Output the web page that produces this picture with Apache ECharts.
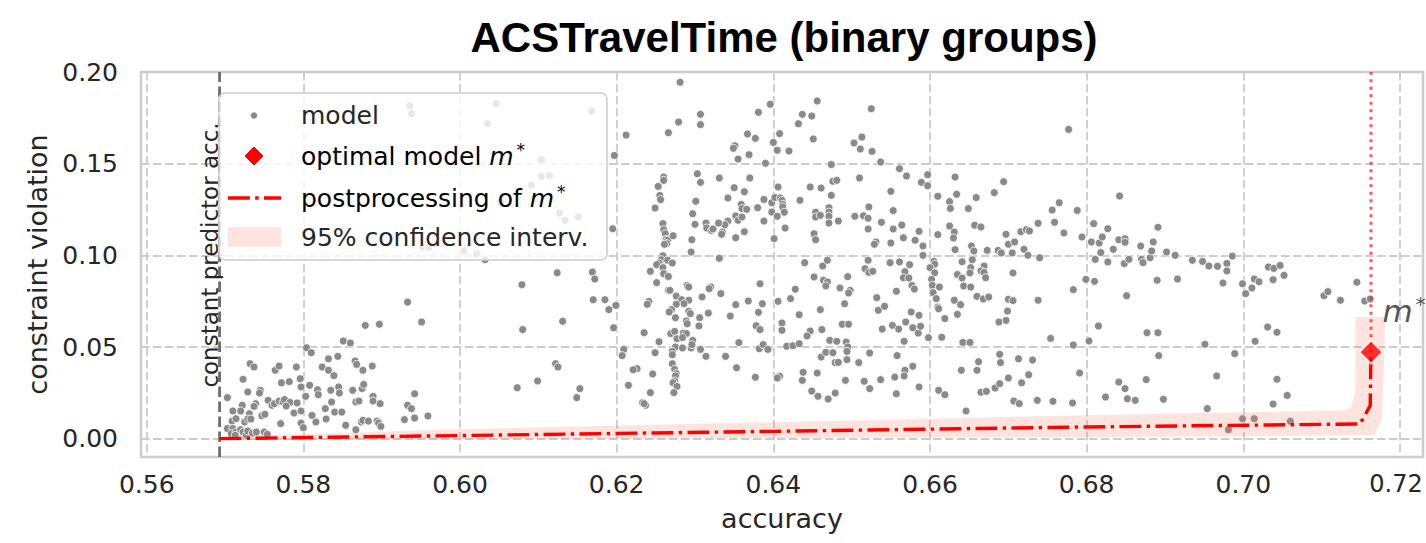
<!DOCTYPE html>
<html>
<head>
<meta charset="utf-8">
<script src="https://cdn.jsdelivr.net/npm/echarts@6.0.0/dist/echarts.min.js"></script>
<style>html,body{margin:0;padding:0;background:#fff}#chart{width:1426px;height:543px}</style>
</head>
<body>
<div id="chart"></div>
<script>
const titleText = 'ACSTravelTime (binary groups)';
const xTicks = [0.56, 0.58, 0.60, 0.62, 0.64, 0.66, 0.68, 0.70, 0.72];
const yTicks = [0.00, 0.05, 0.10, 0.15, 0.20];
const xRange = [0.55927, 0.72294];
const yRange = [-0.01, 0.20];
const constantPredictorAcc = 0.5693;
const optimalModel = [0.7163, 0.0472];
const postprocessing = [[0.5693, 0.0000], [0.6000, 0.0017], [0.6400, 0.0040], [0.6800, 0.0064], [0.7149, 0.0080], [0.7162, 0.0180], [0.7163, 0.0472]];
const ciPolygon = [[0.5693, 0.0012], [0.6000, 0.0052], [0.6400, 0.0090], [0.6800, 0.0128], [0.7128, 0.0154], [0.7138, 0.0172], [0.7143, 0.0264], [0.7143, 0.0663],
                   [0.7181, 0.0663], [0.7180, 0.0450], [0.7177, 0.0109], [0.7168, 0.0018], [0.6800, 0.0008], [0.6400, 0.0004], [0.6000, -0.0004], [0.5693, -0.0008]];
const modelPoints = [
[0.5804,0.0496],[0.5810,0.0469],[0.5851,0.0533],[0.5860,0.0522],[0.5732,0.0409],[0.5737,0.0391],[0.5764,0.0373],[0.5769,0.0396],[0.5791,0.0391],[0.5832,0.0436],[0.5844,0.0449],[0.5824,0.0391],[0.5832,0.0373],[0.5839,0.0344],[0.5866,0.0424],[0.5868,0.0405],[0.5876,0.0373],[0.5888,0.0396],[0.5723,0.0324],[0.5772,0.0305],[0.5782,0.0311],[0.5796,0.0327],[0.5729,0.0255],[0.5745,0.0264],[0.5744,0.0249],[0.5797,0.0282],[0.5808,0.0291],[0.5818,0.0267],[0.5835,0.0264],[0.5845,0.0282],[0.5846,0.0249],[0.5863,0.0264],[0.5875,0.0273],[0.5877,0.0296],[0.5703,0.0224],[0.5722,0.0182],[0.5739,0.0191],[0.5737,0.0176],[0.5755,0.0209],[0.5760,0.0182],[0.5763,0.0191],[0.5769,0.0205],[0.5774,0.0200],[0.5776,0.0213],[0.5783,0.0198],[0.5792,0.0195],[0.5803,0.0231],[0.5710,0.0151],[0.5720,0.0151],[0.5731,0.0136],[0.5747,0.0125],[0.5751,0.0133],[0.5778,0.0178],[0.5788,0.0140],[0.5709,0.0096],[0.5714,0.0109],[0.5725,0.0091],[0.5729,0.0107],[0.5733,0.0107],[0.5771,0.0082],[0.5797,0.0151],[0.5811,0.0127],[0.5816,0.0091],[0.5828,0.0164],[0.5829,0.0107],[0.5836,0.0200],[0.5840,0.0145],[0.5849,0.0145],[0.5854,0.0073],[0.5867,0.0200],[0.5871,0.0205],[0.5889,0.0231],[0.5889,0.0205],[0.5898,0.0191],[0.5797,0.0085],[0.5800,0.0060],[0.5874,0.0091],[0.5876,0.0100],[0.5883,0.0096],[0.5867,0.0049],[0.5894,0.0096],[0.5896,0.0085],[0.5899,0.0067],[0.5929,0.0104],[0.5933,0.0182],[0.5938,0.0164],[0.5942,0.0245],[0.5942,0.0113],[0.5703,0.0055],[0.5710,0.0055],[0.5708,0.0027],[0.5714,0.0036],[0.5713,0.0018],[0.5720,0.0049],[0.5723,0.0036],[0.5727,0.0018],[0.5729,0.0042],[0.5735,0.0031],[0.5740,0.0036],[0.5750,0.0036],[0.5754,0.0024],[0.5819,0.0240],
[0.5933,0.0745],[0.5951,0.0636],[0.5879,0.0618],[0.5897,0.0624],[0.5959,0.0124],[0.5936,0.1815],[0.5938,0.1773],[0.5952,0.1045],[0.5960,0.1045],
[0.6046,0.1827],[0.6035,0.1718],[0.6168,0.1787],[0.6104,0.1522],[0.6104,0.1431],[0.6114,0.1435],[0.6091,0.1382],[0.6052,0.1291],[0.6127,0.1231],[0.6134,0.1191],[0.6151,0.1209],[0.6005,0.1024],[0.6021,0.1009],[0.6032,0.0976],
[0.6197,0.1545],[0.6195,0.1145],[0.6124,0.0905],[0.6079,0.0840],[0.6169,0.0909],[0.6172,0.0871],[0.6170,0.0758],[0.6185,0.0758],[0.6190,0.0704],[0.6199,0.0727],[0.6131,0.0640],[0.6080,0.0595],[0.6196,0.0605],[0.6122,0.0409],[0.6125,0.0391],[0.6099,0.0315],[0.6073,0.0278],[0.6153,0.0273],[0.6149,0.0224],
[0.6212,0.1656],[0.6281,0.1944],[0.6279,0.1727],[0.6266,0.1669],[0.6307,0.1769],[0.6307,0.1713],[0.6381,0.1780],[0.6396,0.1824],[0.6367,0.1662],[0.6377,0.1638],[0.6351,0.1598],[0.6349,0.1584],[0.6355,0.1525],[0.6369,0.1549],[0.6390,0.1502],[0.6400,0.1616],[0.6405,0.1573],[0.6408,0.1664],
[0.6260,0.1427],[0.6260,0.1409],[0.6253,0.1376],[0.6255,0.1327],[0.6256,0.1304],[0.6249,0.1258],[0.6303,0.1445],[0.6307,0.1398],[0.6331,0.1422],[0.6370,0.1422],[0.6350,0.1369],[0.6363,0.1347],[0.6342,0.1313],[0.6301,0.1295],[0.6297,0.1227],[0.6300,0.1169],[0.6359,0.1278],[0.6360,0.1255],[0.6366,0.1251],[0.6380,0.1260],[0.6388,0.1305],[0.6398,0.1287],[0.6402,0.1315],[0.6406,0.1373],[0.6409,0.1313],[0.6411,0.1300],[0.6412,0.1278],[0.6412,0.1264],[0.6398,0.1236],[0.6405,0.1213],[0.6414,0.1235],[0.6415,0.1149],[0.6388,0.1187],[0.6352,0.1215],[0.6355,0.1191],[0.6360,0.1209],[0.6342,0.1187],[0.6338,0.1167],[0.6330,0.1176],[0.6314,0.1176],[0.6315,0.1149],[0.6321,0.1136],[0.6323,0.1144],[0.6335,0.1127],[0.6334,0.1115],[0.6363,0.1129],[0.6352,0.1096],[0.6401,0.1091],
[0.6259,0.1173],[0.6260,0.1140],[0.6262,0.1118],[0.6263,0.1087],[0.6265,0.1082],[0.6264,0.1064],[0.6261,0.1060],[0.6272,0.1107],[0.6296,0.1085],[0.6295,0.1018],
[0.6331,0.0984],[0.6259,0.0998],[0.6257,0.0976],[0.6254,0.0958],[0.6251,0.0949],[0.6265,0.0973],[0.6271,0.0958],[0.6259,0.0933],[0.6260,0.0900],[0.6266,0.0885],[0.6243,0.0913],[0.6251,0.0851],
[0.6209,0.0487],[0.6207,0.0453],[0.6290,0.0835],[0.6292,0.0827],[0.6320,0.0827],[0.6318,0.0818],[0.6333,0.0791],[0.6383,0.0845],[0.6266,0.0809],[0.6268,0.0809],[0.6276,0.0778],[0.6241,0.0749],[0.6239,0.0733],[0.6283,0.0758],[0.6292,0.0755],[0.6286,0.0736],[0.6276,0.0733],[0.6309,0.0773],[0.6270,0.0704],[0.6267,0.0691],[0.6292,0.0695],[0.6294,0.0682],[0.6275,0.0660],[0.6306,0.0660],[0.6317,0.0685],[0.6289,0.0642],[0.6290,0.0627],[0.6305,0.0615],[0.6352,0.0731],[0.6368,0.0751],[0.6386,0.0736],[0.6381,0.0689],[0.6345,0.0669],[0.6406,0.0749],[0.6411,0.0631],[0.6411,0.0591],[0.6378,0.0616],[0.6383,0.0595],[0.6235,0.0578],[0.6269,0.0573],[0.6274,0.0585],[0.6277,0.0545],[0.6285,0.0576],[0.6289,0.0573],[0.6284,0.0551],[0.6254,0.0529],[0.6249,0.0469],[0.6275,0.0500],[0.6284,0.0495],[0.6295,0.0495],[0.6297,0.0536],[0.6296,0.0513],[0.6307,0.0487],[0.6314,0.0449],[0.6339,0.0449],[0.6356,0.0524],[0.6353,0.0387],[0.6382,0.0491],[0.6387,0.0513],[0.6393,0.0487],[0.6271,0.0476],[0.6271,0.0458],[0.6271,0.0409],[0.6274,0.0378],[0.6276,0.0355],[0.6275,0.0342],[0.6274,0.0315],[0.6272,0.0305],[0.6277,0.0285],[0.6273,0.0251],[0.6226,0.0382],[0.6221,0.0376],[0.6246,0.0353],[0.6215,0.0291],[0.6243,0.0251],[0.6233,0.0196],[0.6237,0.0182],[0.6235,0.0191],[0.6377,0.0335],[0.6408,0.0340],[0.6405,0.0331],
[0.6456,0.1842],[0.6437,0.1769],[0.6449,0.1760],[0.6432,0.1718],[0.6451,0.1635],[0.6525,0.1800],[0.6503,0.1613],[0.6513,0.1645],[0.6511,0.1580],[0.6526,0.1567],[0.6420,0.1569],[0.6537,0.1509],[0.6561,0.1473],[0.6570,0.1433],[0.6597,0.1440],[0.6589,0.1398],[0.6597,0.1380],[0.6474,0.1495],[0.6476,0.1404],[0.6481,0.1409],[0.6510,0.1422],[0.6447,0.1373],[0.6461,0.1367],[0.6434,0.1300],[0.6474,0.1327],[0.6550,0.1349],[0.6632,0.1427],[0.6610,0.1322],[0.6634,0.1333],[0.6625,0.1293],[0.6626,0.1256],[0.6649,0.1255],[0.6659,0.1315],[0.6682,0.1342],[0.6694,0.1402],[0.6777,0.1687],
[0.6454,0.1235],[0.6454,0.1209],[0.6460,0.1218],[0.6471,0.1260],[0.6471,0.1236],[0.6471,0.1213],[0.6471,0.1176],[0.6483,0.1187],[0.6504,0.1213],[0.6515,0.1216],[0.6521,0.1202],[0.6522,0.1264],[0.6521,0.1144],[0.6553,0.1244],[0.6538,0.1180],[0.6553,0.1144],[0.6564,0.1165],[0.6566,0.1096],[0.6581,0.1082],[0.6586,0.1131],[0.6591,0.1051],[0.6591,0.1000],[0.6550,0.1067],[0.6531,0.1073],[0.6529,0.1060],[0.6452,0.1118],[0.6454,0.1085],
[0.6610,0.1113],[0.6625,0.1160],[0.6631,0.1127],[0.6630,0.1095],[0.6632,0.1031],[0.6657,0.1164],[0.6665,0.1155],[0.6653,0.1051],[0.6656,0.1024],[0.6654,0.0976],[0.6641,0.0965],[0.6673,0.1027],[0.6687,0.1027],[0.6691,0.1013],[0.6697,0.1115],[0.6700,0.1060],[0.6705,0.1013],[0.6708,0.1073],[0.6716,0.1129],[0.6723,0.1140],[0.6727,0.1133],[0.6738,0.1175],[0.6720,0.1033],[0.6725,0.1000],[0.6740,0.0987],[0.6756,0.1247],[0.6765,0.1287],[0.6759,0.1180],[0.6771,0.1122],[0.6788,0.1245],[0.6794,0.1100],[0.6809,0.1173],[0.6806,0.1073],[0.6816,0.1067],[0.6820,0.1100],[0.6818,0.1015],[0.6811,0.0978],[0.6827,0.1145],[0.6827,0.0964],
[0.6440,0.0960],[0.6463,0.0942],[0.6469,0.0973],[0.6452,0.0882],[0.6464,0.0864],[0.6469,0.0855],[0.6467,0.0833],[0.6485,0.0822],[0.6495,0.0884],[0.6498,0.0809],[0.6496,0.0795],[0.6491,0.0736],[0.6517,0.0927],[0.6521,0.0973],[0.6522,0.0907],[0.6527,0.0913],[0.6549,0.0960],[0.6561,0.0964],[0.6574,0.0949],[0.6568,0.0911],[0.6566,0.0878],[0.6573,0.0876],[0.6577,0.0836],[0.6580,0.0816],[0.6557,0.0804],[0.6532,0.0769],[0.6534,0.0700],[0.6542,0.0722],
[0.6605,0.0967],[0.6606,0.0951],[0.6600,0.0933],[0.6606,0.0905],[0.6602,0.0869],[0.6603,0.0836],[0.6612,0.0827],[0.6604,0.0796],[0.6608,0.0764],[0.6610,0.0718],[0.6611,0.0709],[0.6619,0.0655],[0.6652,0.0933],[0.6669,0.0942],[0.6651,0.0904],[0.6665,0.0915],[0.6669,0.0907],[0.6671,0.0878],[0.6635,0.0895],[0.6641,0.0876],[0.6643,0.0833],[0.6652,0.0827],[0.6660,0.0776],[0.6668,0.0762],[0.6675,0.0773],[0.6631,0.0755],[0.6639,0.0731],[0.6635,0.0678],[0.6700,0.0760],[0.6706,0.0753],[0.6699,0.0696],[0.6697,0.0645],[0.6688,0.0636],[0.6706,0.0904],[0.6738,0.0755],[0.6783,0.0813],[0.6799,0.0869],[0.6810,0.0858],[0.6815,0.0615],[0.6783,0.0511],[0.6803,0.0533],[0.6791,0.0358],[0.6754,0.0547],[0.6824,0.0227],
[0.6422,0.0764],[0.6428,0.0815],[0.6433,0.0676],[0.6460,0.0704],[0.6447,0.0587],[0.6443,0.0560],[0.6462,0.0595],[0.6488,0.0624],[0.6496,0.0624],[0.6472,0.0536],[0.6481,0.0531],[0.6493,0.0527],[0.6495,0.0500],[0.6494,0.0476],[0.6523,0.0467],[0.6461,0.0445],[0.6467,0.0471],[0.6476,0.0469],[0.6479,0.0415],[0.6483,0.0416],[0.6494,0.0431],[0.6456,0.0358],[0.6438,0.0362],[0.6437,0.0318],[0.6449,0.0260],[0.6457,0.0231],[0.6470,0.0216],[0.6479,0.0249],[0.6492,0.0318],[0.6509,0.0415],[0.6516,0.0313],[0.6523,0.0273],[0.6537,0.0322],[0.6539,0.0598],[0.6552,0.0618],[0.6560,0.0598],[0.6569,0.0636],[0.6576,0.0691],[0.6586,0.0673],[0.6578,0.0605],[0.6585,0.0576],[0.6588,0.0613],[0.6567,0.0531],[0.6558,0.0453],[0.6555,0.0336],[0.6568,0.0373],[0.6567,0.0342],[0.6578,0.0395],[0.6557,0.0245],[0.6586,0.0282],[0.6598,0.0551],[0.6615,0.0553],[0.6611,0.0264],[0.6619,0.0240],[0.6642,0.0525],[0.6651,0.0525],[0.6640,0.0373],[0.6660,0.0373],[0.6662,0.0420],[0.6646,0.0151],[0.6665,0.0253],[0.6672,0.0258],[0.6683,0.0276],[0.6689,0.0300],[0.6700,0.0331],[0.6689,0.0460],[0.6690,0.0415],[0.6713,0.0436],[0.6731,0.0429],[0.6726,0.0349],[0.6717,0.0305],[0.6707,0.0205],[0.6714,0.0191],[0.6737,0.0209],[0.6757,0.0204],[0.6782,0.0195],[0.6417,0.0504],[0.6425,0.0507],[0.6433,0.0518],
[0.6842,0.1324],[0.6841,0.1085],[0.6834,0.1033],[0.6849,0.1091],[0.6849,0.1071],[0.6848,0.0955],[0.6854,0.0978],[0.6869,0.1051],[0.6870,0.0978],[0.6872,0.0960],[0.6881,0.0987],[0.6883,0.1024],[0.6885,0.1073],[0.6891,0.1153],[0.6902,0.1018],[0.6913,0.1000],[0.6935,0.0973],[0.6948,0.0967],[0.6956,0.0942],[0.6967,0.0940],[0.6979,0.0956],[0.6979,0.0915],[0.6986,0.0996],[0.6974,0.0849],[0.6890,0.0864],[0.6916,0.0871],[0.6851,0.0780],[0.6877,0.0578],[0.6891,0.0578],[0.6892,0.0453],[0.6951,0.0515],[0.6989,0.0464],[0.6966,0.0342],[0.6841,0.0309],[0.6849,0.0273],[0.6852,0.0218],[0.6862,0.0209],[0.6898,0.0215],[0.6876,0.0322],[0.6954,0.0164],[0.6981,0.0049],[0.6999,0.0109],[0.7014,0.0109],[0.7060,0.0095],[0.6999,0.0845],[0.7003,0.0791],[0.7011,0.0822],[0.7014,0.0871],[0.7020,0.0856],[0.7032,0.0936],[0.7039,0.0929],[0.7047,0.0945],[0.7052,0.0891],[0.7038,0.0867],[0.7031,0.0609],[0.7043,0.0580],[0.7015,0.0531],[0.7043,0.0324],[0.7038,0.0189],[0.7056,0.0236],[0.7103,0.0780],[0.7108,0.0802],[0.7124,0.0755],[0.7145,0.0853],[0.7155,0.0751],[0.7162,0.0762]
];
const legendLabels = ['model', 'optimal model ', 'postprocessing of ', '95% confidence interv.'];

const FONT = 'DejaVu Sans';
const TXT = '#262626';
const BAND = 'rgba(248,120,95,0.2)';
const GRAY = '#8a8a8a';

const chart = echarts.init(document.getElementById('chart'), null, {renderer: 'svg'});

function axisCommon(ticks) {
  return {
    type: 'value',
    axisLine: {show: false},
    axisTick: {show: false, customValues: ticks},
    axisLabel: {customValues: ticks, formatter: v => v.toFixed(2), fontFamily: FONT, fontSize: 25, color: TXT},
    splitLine: {show: true, lineStyle: {color: '#cccccc', width: 1.8, type: [8.4, 3.6]}},
    nameLocation: 'middle',
    nameTextStyle: {fontFamily: FONT, fontSize: 27, color: TXT}
  };
}
const xAxis = Object.assign(axisCommon(xTicks), {min: xRange[0], max: xRange[1], name: 'accuracy', nameGap: 48});
xAxis.axisLabel.margin = 15;
xAxis.axisLabel.formatter = v => (Math.abs(v - xTicks[xTicks.length - 1]) < 1e-9 ? '{r|' + v.toFixed(2) + '}' : v.toFixed(2));
xAxis.axisLabel.rich = {r: {fontFamily: FONT, fontSize: 24, color: TXT, padding: [0, 8, 0, 0]}};
const yAxis = Object.assign(axisCommon(yTicks), {min: yRange[0], max: yRange[1], name: 'constraint violation', nameGap: 85});
yAxis.axisLabel.margin = 23;

const richStar = (size, starSize, lh) => ({
  n: {fontFamily: FONT, fontSize: size, color: TXT, lineHeight: lh},
  m: {fontFamily: FONT, fontStyle: 'italic', fontSize: size, color: TXT, lineHeight: lh},
  s: {fontFamily: FONT, fontSize: starSize, color: TXT, verticalAlign: 'top', lineHeight: starSize, padding: [0, 0, 0, 3]}
});

const option = {
  animation: false,
  backgroundColor: '#ffffff',
  grid: {left: 141, top: 72, right: 3, bottom: 86, show: true, borderColor: '#cccccc', borderWidth: 2.5, backgroundColor: 'transparent', containLabel: false, outerBoundsMode: 'none'},
  xAxis: xAxis,
  yAxis: yAxis,
  tooltip: {show: false},
  series: [
    {
      type: 'scatter', name: 'model', data: modelPoints, symbol: 'circle', symbolSize: 8, z: 2, silent: true,
      itemStyle: {color: GRAY, borderColor: '#ffffff', borderWidth: 0.8, opacity: 1},
      emphasis: {disabled: true}
    },
    {
      type: 'custom', name: '95% confidence interv.', data: ciPolygon, z: 3, silent: true,
      encode: {x: 0, y: 1},
      renderItem: function (params, api) {
        if (params.dataIndex !== 0) return null;
        const pts = ciPolygon.map(p => api.coord(p));
        return {type: 'polygon', shape: {points: pts}, style: {fill: BAND, stroke: 'none'}};
      }
    },
    {
      type: 'line', name: 'constant predictor', data: [[constantPredictorAcc, yRange[0]], [constantPredictorAcc, yRange[1]]],
      symbol: 'none', z: 3, silent: true,
      lineStyle: {color: '#6e6e6e', width: 2.8, type: [10.5, 4.5]}
    },
    {
      type: 'line', name: 'postprocessing of m*', data: postprocessing, symbol: 'none', z: 4, silent: true,
      lineStyle: {color: '#ff0000', width: 3.4, type: [21.8, 5.4, 3.4, 5.4]}
    },
    {
      type: 'line', name: 'm* level', data: [optimalModel, [optimalModel[0], yRange[1]]], symbol: 'none', z: 4, silent: true,
      lineStyle: {color: 'rgba(255,30,30,0.75)', width: 3, type: [3, 4.5]}
    },
    {
      type: 'scatter', name: 'optimal model m*', data: [optimalModel], symbol: 'diamond', symbolSize: 23, z: 6, silent: true,
      itemStyle: {color: '#ff0000', borderColor: '#ffffff', borderWidth: 1.8},
      label: {show: true, position: 'right', distance: 1, offset: [-2, -41], formatter: '{m|m}{s|*}', rich: richStar(31, 20, 34)}
    }
  ],
  graphic: {elements: [
    {type: 'text', x: 784, y: 37, z: 100, style: {text: titleText, fontFamily: 'Liberation Sans', fontWeight: 'bold', fontSize: 42, fill: '#000000', align: 'center', verticalAlign: 'middle'}},
    {type: 'text', x: 210, y: 255, rotation: Math.PI / 2, z: 100, style: {text: 'constant predictor acc.', fontFamily: FONT, fontSize: 23, fill: TXT, align: 'center', verticalAlign: 'middle'}},
    {type: 'rect', z: 100, shape: {x: 219, y: 93, width: 388, height: 167, r: 6}, style: {fill: 'rgba(255,255,255,0.8)', stroke: '#cccccc', lineWidth: 1.5}},
    {type: 'circle', z: 101, shape: {cx: 254, cy: 115.5, r: 3.6}, style: {fill: GRAY, stroke: '#ffffff', lineWidth: 0.8}},
    {type: 'polygon', z: 101, shape: {points: [[254, 146], [264, 156], [254, 166], [244, 156]]}, style: {fill: '#ff0000', stroke: '#ffffff', lineWidth: 1}},
    {type: 'line', z: 101, shape: {x1: 228, y1: 198, x2: 281, y2: 198}, style: {stroke: '#ff0000', lineWidth: 3.4, lineDash: [21.8, 5.4, 3.4, 5.4]}},
    {type: 'rect', z: 101, shape: {x: 228, y: 227, width: 53, height: 20}, style: {fill: BAND}},
    {type: 'text', z: 101, x: 301, y: 115, style: {text: legendLabels[0], fontFamily: FONT, fontSize: 25, fill: TXT, align: 'left', verticalAlign: 'middle'}},
    {type: 'text', z: 101, x: 301, y: 156, style: {text: '{n|' + legendLabels[1] + '}{m|m}{s|*}', rich: richStar(25, 17, 30), align: 'left', verticalAlign: 'middle'}},
    {type: 'text', z: 101, x: 301, y: 198, style: {text: '{n|' + legendLabels[2] + '}{m|m}{s|*}', rich: richStar(25, 17, 30), align: 'left', verticalAlign: 'middle'}},
    {type: 'text', z: 101, x: 301, y: 237, style: {text: legendLabels[3], fontFamily: FONT, fontSize: 25, fill: TXT, align: 'left', verticalAlign: 'middle'}}
  ]}
};
chart.setOption(option);
</script>
</body>
</html>
